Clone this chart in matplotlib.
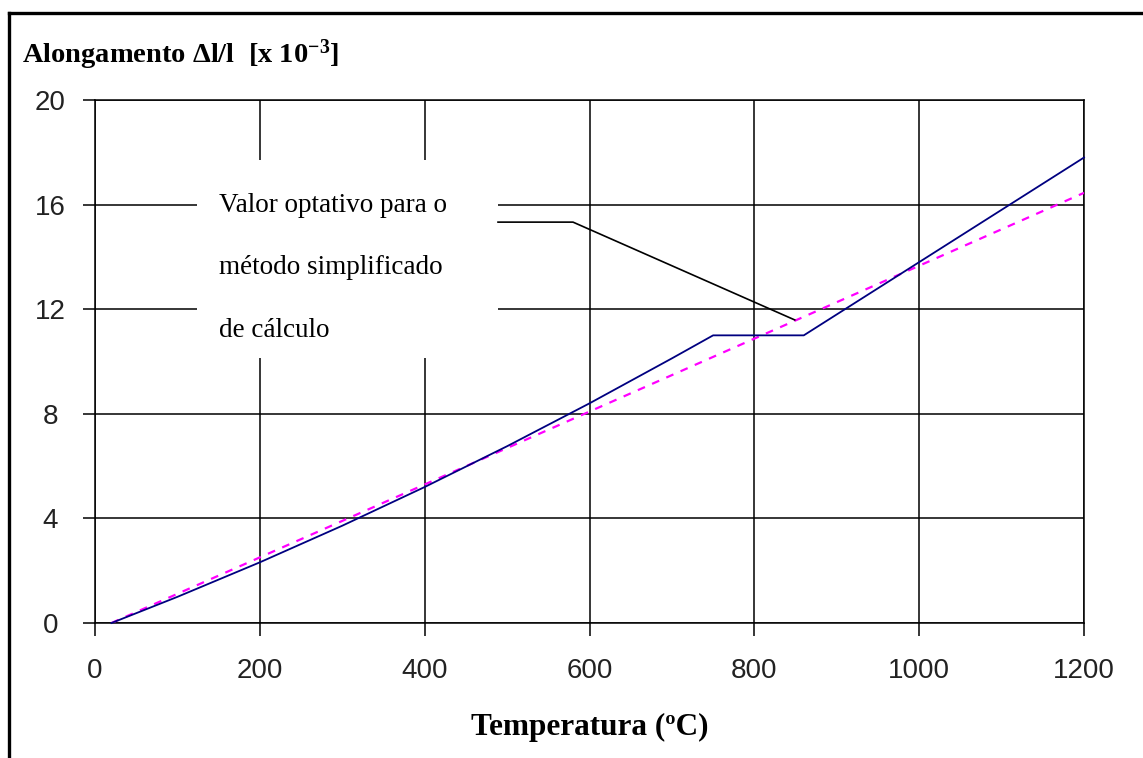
import matplotlib
matplotlib.use("Agg")
import matplotlib.pyplot as plt
from matplotlib.lines import Line2D
from matplotlib.patches import Rectangle

# ---- data ----
temp_exact = [20, 100, 200, 300, 400, 500, 600, 700, 750, 860, 1000, 1100, 1200]
elong_exact = [0.0, 1.0, 2.32, 3.72, 5.2, 6.76, 8.4, 10.12, 11.0, 11.0, 13.8, 15.8, 17.8]
temp_simpl = [20, 1200]
elong_simpl = [0.0, 16.45]

x_ticks = [0, 200, 400, 600, 800, 1000, 1200]
y_ticks = [0, 4, 8, 12, 16, 20]

title_text = "Alongamento \u0394l/l  [x 10$^{-3}$]"
xlabel_text = "Temperatura (\u00baC)"
note_lines = ["Valor optativo para o", "m\u00e9todo simplificado", "de c\u00e1lculo"]

plt.rcParams["mathtext.fontset"] = "custom"
plt.rcParams["mathtext.rm"] = "Liberation Serif:bold"
plt.rcParams["mathtext.it"] = "Liberation Serif:bold"
plt.rcParams["mathtext.bf"] = "Liberation Serif:bold"

W, H = 1143, 758
fig = plt.figure(figsize=(W / 100, H / 100), dpi=100)
fig.patch.set_facecolor("white")
ax = fig.add_axes([95 / W, 1 - 623 / H, (1084 - 95) / W, (623 - 100) / H])

ax.set_xlim(0, 1200)
ax.set_ylim(0, 20)
ax.set_xticks(x_ticks)
ax.set_yticks(y_ticks)
ax.grid(True, color="black", linewidth=1.1)
ax.set_axisbelow(True)
for s in ax.spines.values():
    s.set_linewidth(1.1)
    s.set_color("black")

ax.tick_params(axis="both", direction="out", length=9, width=1.1, color="black",
               labelsize=20, labelcolor="#222222")
ax.tick_params(axis="x", pad=16)
ax.tick_params(axis="y", pad=23)
for lbl in ax.get_xticklabels():
    lbl.set_fontfamily("Liberation Sans")
for lbl in ax.get_yticklabels():
    lbl.set_fontfamily("Liberation Sans")
    lbl.set_horizontalalignment("center")

# lines
ax.plot(temp_exact, elong_exact, color="#000080", linewidth=1.3, zorder=4, clip_on=False)
ax.plot(temp_simpl, elong_simpl, color="#FF00FF", linewidth=1.6, linestyle=(0, (3.5, 3.5)), zorder=3)

# annotation box (white area covering the grid)
ax.add_patch(Rectangle((124, 10.13), 489 - 124, 17.7 - 10.13, facecolor="white",
                       edgecolor="none", zorder=2.5))
for yy, t in zip([15.98, 13.6, 11.2], note_lines):
    ax.text(150, yy, t, fontsize=19.5, family="Liberation Serif", color="black",
            ha="left", va="center", zorder=5)
# leader line
ax.plot([489, 580, 849], [15.33, 15.33, 11.59], color="black", linewidth=1.2, zorder=5)

# titles
fig.text(22 / W, 1 - 55 / H, title_text, fontsize=20.5, family="Liberation Serif",
         fontweight="bold", ha="left", va="center")
fig.text(590 / W, 1 - 727 / H, xlabel_text, fontsize=22.5, family="Liberation Serif",
         fontweight="bold", ha="center", va="center")

# outer frame (left and top edges)
fig.add_artist(Line2D([9 / W, 9 / W], [0, 1 - 13 / H], transform=fig.transFigure,
                      color="black", linewidth=2.4))
fig.add_artist(Line2D([9 / W, 1], [1 - 13 / H, 1 - 13 / H], transform=fig.transFigure,
                      color="black", linewidth=2.4))

fig.savefig("out.png", dpi=100)
